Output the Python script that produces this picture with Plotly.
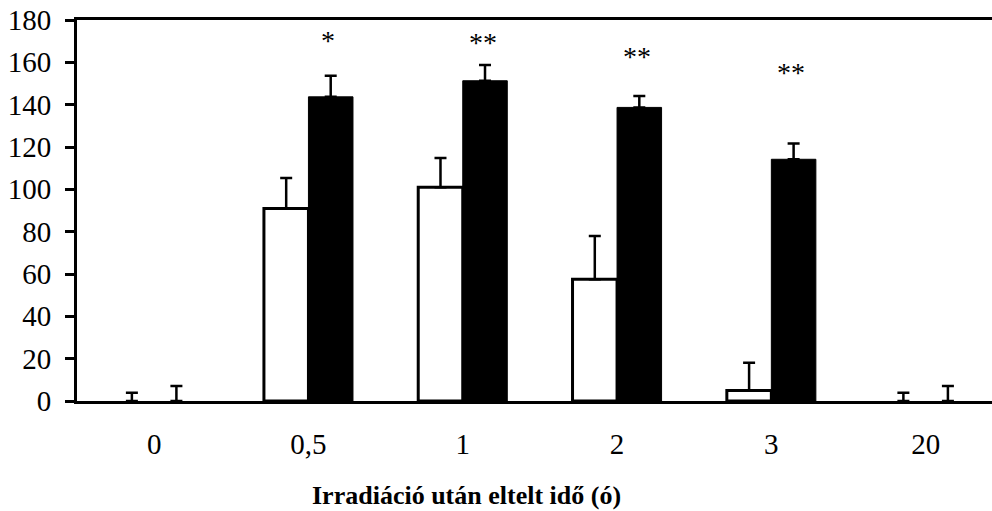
import plotly.graph_objects as go

categories = ["0", "0,5", "1", "2", "3", "20"]
white_vals = [0, 91, 101, 57.5, 5, 0]
white_err = [3.9, 14.3, 13.8, 20.5, 13.1, 3.9]
black_vals = [0, 143.7, 151.3, 138.7, 114.2, 0]
black_err = [7.1, 10, 7.4, 5.4, 7.5, 7.1]
star_labels = ["", "*", "**", "**", "**", ""]
star_y = [None, 171.5, 171, 164.4, 156.8, None]
x_title = "Irradiáció után eltelt idő (ó)"

white_line_w = [0 if v == 0 else 3 for v in white_vals]
black_line_w = [0 if v == 0 else 1 for v in black_vals]

fig = go.Figure()
fig.add_trace(go.Bar(
    x=categories, y=white_vals,
    marker=dict(color="white", line=dict(color="black", width=white_line_w)),
    error_y=dict(type="data", array=white_err, arrayminus=[0]*6, symmetric=False,
                 color="black", thickness=2.5, width=6),
    showlegend=False,
))
fig.add_trace(go.Bar(
    x=categories, y=black_vals,
    marker=dict(color="black", line=dict(color="black", width=black_line_w)),
    error_y=dict(type="data", array=black_err, arrayminus=[0]*6, symmetric=False,
                 color="black", thickness=2.5, width=6),
    showlegend=False,
))
for i, (lab, yy) in enumerate(zip(star_labels, star_y)):
    if lab:
        fig.add_annotation(x=i, y=yy, text=lab, showarrow=False, xshift=20, yshift=-3,
                           font=dict(family="Liberation Serif", size=28, color="black"),
                           yanchor="middle")

fig.add_annotation(x=0.426, y=-0.247, xref="paper", yref="paper",
                   text="<b>" + x_title + "</b>", showarrow=False,
                   xanchor="center", yanchor="middle",
                   font=dict(family="Liberation Serif", size=26, color="black"))

fig.update_layout(
    width=992, height=511,
    margin=dict(l=77, r=0, t=20, b=110),
    plot_bgcolor="white", paper_bgcolor="white",
    barmode="group", bargap=0.423, bargroupgap=0,
    font=dict(family="Liberation Serif", size=29, color="black"),
)
fig.update_xaxes(
    type="category", range=[-0.5, 5.43],
    showline=True, linecolor="black", linewidth=3, mirror=True,
    ticks="", showgrid=False, tickfont=dict(size=29), ticklabelstandoff=15,
)
fig.update_yaxes(
    range=[0, 180], dtick=20, showline=True, linecolor="black", linewidth=3,
    ticks="outside", ticklen=9, tickwidth=3, tickcolor="black",
    ticklabelstandoff=8, ticklabeloverflow="allow",
    showgrid=False, zeroline=False, tickfont=dict(size=29),
)
fig.write_html("out.html", config={"displayModeBar": False},
               post_script="document.body.style.margin='0';")
